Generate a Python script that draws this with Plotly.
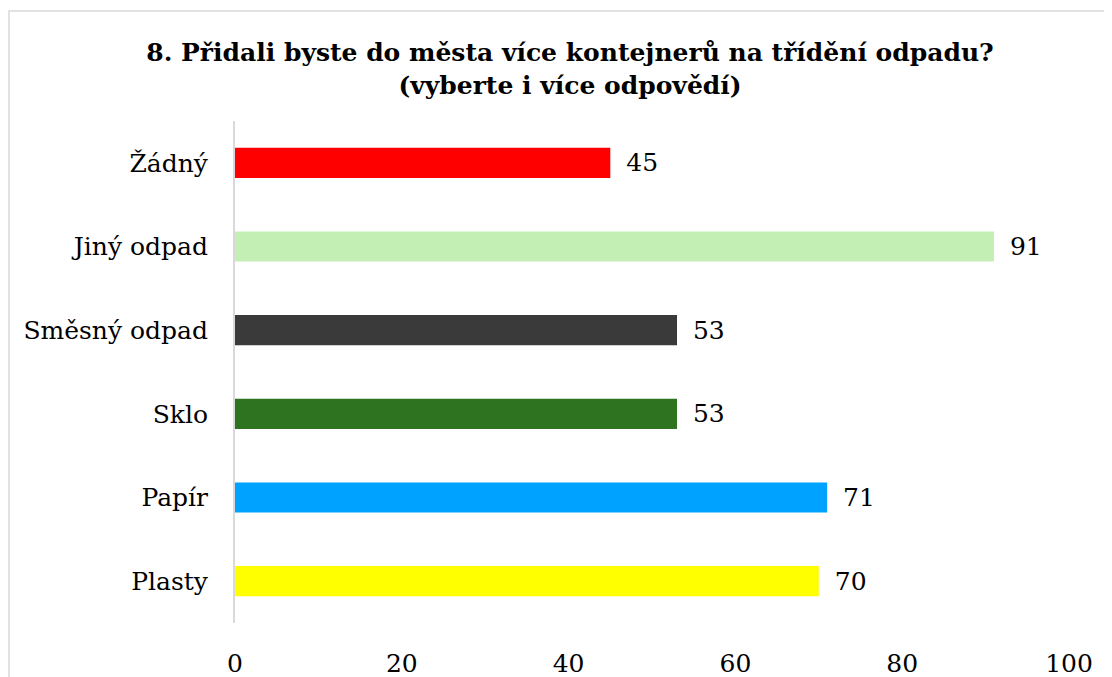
import plotly.graph_objects as go

categories = ["Žádný", "Jiný odpad", "Směsný odpad", "Sklo", "Papír", "Plasty"]
values = [45, 91, 53, 53, 71, 70]
colors = ["#FF0000", "#C3EFB5", "#3A3A3A", "#2E7420", "#00A2FF", "#FFFF00"]
x_ticks = [0, 20, 40, 60, 80, 100]
title_text = "8. Přidali byste do města více kontejnerů na třídění odpadu?<br>(vyberte i více odpovědí)"

FONT = "DejaVu Serif"

fig = go.Figure(go.Bar(
    y=categories,
    x=values,
    orientation="h",
    marker=dict(color=colors, line=dict(width=0)),
    text=values,
    texttemplate="\u2009 %{x}",
    textposition="outside",
    constraintext="none",
    textfont=dict(family=FONT, size=25, color="#000000"),
    cliponaxis=False,
))

fig.update_layout(
    width=1112, height=677,
    margin=dict(l=227, r=51, t=113, b=62, autoexpand=False),
    paper_bgcolor="white", plot_bgcolor="white",
    bargap=0.64,
    showlegend=False,
    font=dict(family=FONT, size=25, color="#000000"),
    title=dict(
        text="<b>" + title_text + "</b>",
        font=dict(family=FONT, size=25, color="#000000"),
        x=562/1112, xanchor="center", xref="container",
        y=1 - 53/677, yanchor="top", yref="container",
    ),
    xaxis=dict(
        range=[0, 100], tickvals=x_ticks, showgrid=False, zeroline=False,
        showline=False, ticks="outside", ticklen=18, tickcolor="rgba(0,0,0,0)",
        tickfont=dict(family=FONT, size=25, color="#000000"), automargin=False,
    ),
    yaxis=dict(
        categoryorder="array", categoryarray=categories[::-1],
        showgrid=False, zeroline=False, showline=True, linecolor="#D9D9D9", linewidth=2,
        ticks="outside", ticklen=20, tickcolor="rgba(0,0,0,0)",
        tickfont=dict(family=FONT, size=25, color="#000000"), automargin=False,
    ),
    shapes=[dict(
        type="rect", xref="paper", yref="paper",
        x0=(1 - 227) / 834, x1=1.3, y0=-0.3, y1=(615 - 3) / 502,
        line=dict(color="#D9D9D9", width=1.5), fillcolor="rgba(0,0,0,0)", layer="below",
    )],
)

fig.write_html("out.html")
